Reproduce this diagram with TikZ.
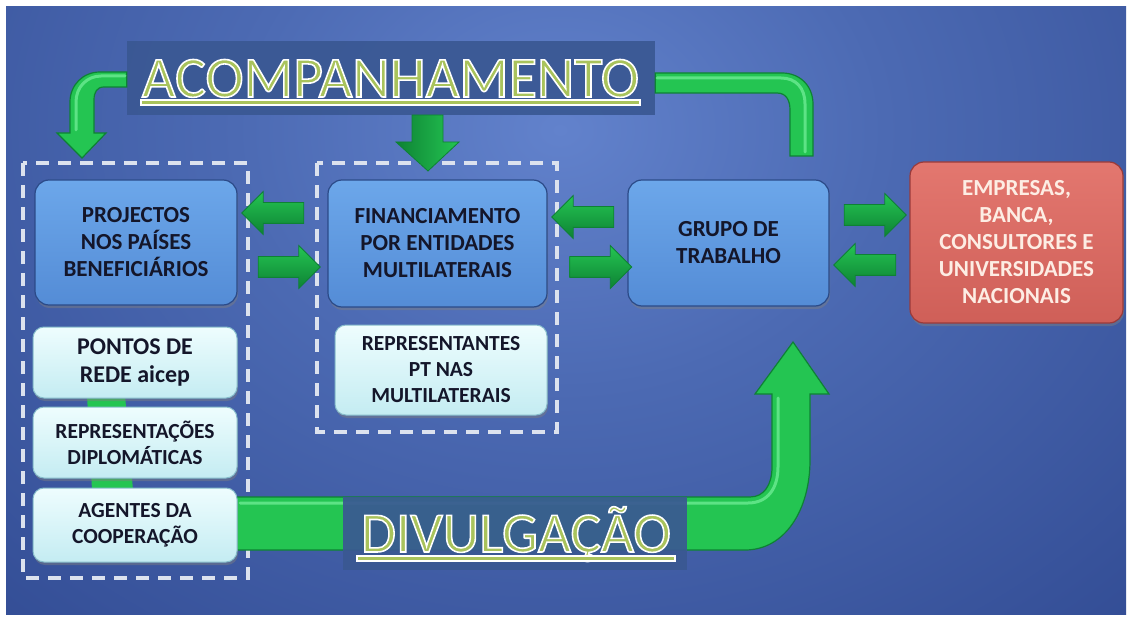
\documentclass[tikz,border=0pt]{standalone}
\usepackage{fontspec}
\setmainfont{Carlito}
\usetikzlibrary{shapes.arrows,shadows}
\definecolor{bgin}{HTML}{6282CC}
\definecolor{bgmid}{HTML}{4C6AB3}
\definecolor{bgmid2}{HTML}{324C94}
\definecolor{bgout}{HTML}{1B2966}
\definecolor{banner}{HTML}{3A5893}
\definecolor{olivet}{HTML}{A9C35C}
\definecolor{grn}{HTML}{24C552}
\definecolor{grnlt}{HTML}{6CEB92}
\definecolor{grndk}{HTML}{0E8234}
\definecolor{boxtop}{HTML}{6CA7EA}
\definecolor{boxbot}{HTML}{548CD6}
\definecolor{boxline}{HTML}{2B4A88}
\definecolor{cyantop}{HTML}{EEFDFE}
\definecolor{cyanbot}{HTML}{C4ECF2}
\definecolor{cyanline}{HTML}{86BCCB}
\definecolor{redtop}{HTML}{E3776F}
\definecolor{redbot}{HTML}{CF5F58}
\definecolor{redline}{HTML}{9A3A3A}
\definecolor{redtext}{HTML}{FDEDE4}
\definecolor{txt}{HTML}{14162A}
\definecolor{dashc}{HTML}{DCE2EE}
\pgfdeclareradialshading{bgshade}{\pgfpoint{0bp}{0bp}}{color(0bp)=(bgin); color(9bp)=(bgmid); color(24bp)=(bgmid2); color(38bp)=(bgout); color(50bp)=(bgout)}
\tikzset{
  bluebox/.style={rectangle, rounded corners=14pt, top color=boxtop, bottom color=boxbot, draw=boxline, line width=1.2pt,
     drop shadow={shadow xshift=1pt, shadow yshift=-3pt, opacity=0.45},
     text=txt, align=center, font=\fontsize{23}{27}\selectfont\bfseries, inner sep=0pt},
  cyanbox/.style={rectangle, rounded corners=11pt, top color=cyantop, bottom color=cyanbot, draw=cyanline, line width=1pt,
     drop shadow={shadow xshift=1pt, shadow yshift=-3pt, opacity=0.45},
     text=txt, align=center, inner sep=0pt},
  redbox/.style={rectangle, rounded corners=14pt, top color=redtop, bottom color=redbot, draw=redline, line width=1.2pt,
     drop shadow={shadow xshift=1pt, shadow yshift=-3pt, opacity=0.45},
     text=redtext, align=center, font=\fontsize{23}{27}\selectfont\bfseries, inner sep=0pt},
  dashframe/.style={draw=dashc, line width=3.5pt, dash pattern=on 13pt off 9pt},
  fatarrow/.style={single arrow, minimum height=62pt, single arrow head extend=11pt,
     inner xsep=0pt, inner ysep=0pt, top color=grn, middle color=grnlt, bottom color=grndk, draw=grndk, line width=0.8pt},
  pipe/.style={fill=grn, draw=grndk, line width=1.2pt},
  hilite/.style={draw=grnlt, line width=3pt, line cap=round, opacity=0.8},
  bannerbox/.style={rectangle, fill=banner, opacity=0.92, inner sep=0pt},
  titletext/.style={inner sep=0pt, anchor=base},
  uline/.style={fill=olivet, draw=white, line width=1.2pt}
}
% outlined title text: olive fill, white stroke (text render mode 2)
\newcommand{\ttl}[2]{\resizebox{#1}{!}{\fontsize{55}{60}\selectfont\textcolor{olivet}{\special{pdf:literal direct 2 Tr 1 1 1 RG 1.5 w}#2\special{pdf:literal direct 0 Tr}}}}
\newcommand{\shaft}{\rule{0pt}{20pt}}
\begin{document}
\begin{tikzpicture}[x=1pt,y=-1pt]
\useasboundingbox (0,0) rectangle (1132,620);
\fill[white] (0,0) rectangle (1132,620);
\begin{scope}
  \clip (6,7) rectangle (1126,614);
  \shade[shading=bgshade] (560,130) ellipse (900 and 720);
\end{scope}

% dashed frames
\draw[dashframe] (23,163) rectangle (248,578);
\draw[dashframe] (317,163) rectangle (557,432);

% green link between cyan boxes
\fill[grn] (87,395) -- (125,395) -- (133,490) -- (92,490) -- cycle;

% banners
\node[bannerbox, minimum width=528pt, minimum height=74pt] (acomp) at (391,78) {};
\node[bannerbox, minimum width=344pt, minimum height=73pt] (divul) at (515,533.5) {};

% big divulgacao arrow
\draw[pipe] (230,497) -- (750,497)
   .. controls (764,497) and (772,485) .. (772,467) -- (772,394) -- (755,394) -- (793,342)
   -- (829,394) -- (810,394) -- (810,460) .. controls (810,510) and (785,550) .. (745,550)
   -- (230,550) -- cycle;
\draw[hilite] (240,503) -- (748,503) .. controls (768,503) and (778,488) .. (778,467) -- (778,398);
\fill[bannerbox] (divul.north west) rectangle (divul.south east);

% acompanhamento pipes
\draw[pipe] (acomp.west |- 0,72) -- (100,72) .. controls (83,72) and (70,85) .. (70,102) -- (70,133)
   -- (57,133) -- (82,158) -- (106,133) -- (94,133) -- (94,100) .. controls (94,92) and (97,87) .. (104,87)
   -- (acomp.west |- 0,87) -- cycle;
\draw[hilite] (125,76) -- (101,76) .. controls (87,76) and (76,87) .. (76,102) -- (76,130);
\draw[pipe] (acomp.east |- 0,73) -- (782,73) .. controls (800,73) and (813,86) .. (813,104) -- (813,156)
   -- (790,156) -- (790,110) .. controls (790,100) and (786,93) .. (777,93) -- (acomp.east |- 0,93) -- cycle;
\draw[hilite] (657,78) -- (781,78) .. controls (796,78) and (805,88) .. (805,104) -- (805,152);
\shade[left color=grndk, middle color=grnlt, right color=grn, draw=grndk, line width=0.8pt]
   (412,115) -- (412,142) -- (396,142) -- (428,171) -- (459,142) -- (443,142) -- (443,115) -- cycle;

% titles
\node[titletext] (acompt) at (390.5,97) {\ttl{497pt}{ACOMPANHAMENTO}};
\fill[uline] (141,100) rectangle (640,105);
\node[titletext] (divult) at (516,552) {\ttl{310pt}{DIVULGAÇÃO}};
\fill[uline] (357,556) rectangle (675,561);

% main boxes
\node[bluebox, minimum width=202pt, minimum height=125pt] (proj) at (136,242.5) {PROJECTOS\\NOS PAÍSES\\BENEFICIÁRIOS};
\node[bluebox, minimum width=219pt, minimum height=127pt] (fin) at (437.5,243.5) {FINANCIAMENTO\\POR ENTIDADES\\MULTILATERAIS};
\node[bluebox, minimum width=201pt, minimum height=126pt] (grupo) at (728.5,243) {GRUPO DE\\TRABALHO};
\node[redbox, minimum width=213pt, minimum height=161pt] (emp) at (1016.5,242.5) {EMPRESAS,\\BANCA,\\CONSULTORES E\\UNIVERSIDADES\\NACIONAIS};

\node[cyanbox, minimum width=204pt, minimum height=71pt, font=\fontsize{24}{28}\selectfont\bfseries] (pontos) at (135,362.5) {PONTOS DE\\REDE aicep};
\node[cyanbox, minimum width=204pt, minimum height=71pt, font=\fontsize{21.5}{26}\selectfont\bfseries] (repdip) at (135,442.5) {REPRESENTAÇÕES\\DIPLOMÁTICAS};
\node[cyanbox, minimum width=204pt, minimum height=74pt, font=\fontsize{21.5}{26}\selectfont\bfseries] (agentes) at (135,525) {AGENTES DA\\COOPERAÇÃO};
\node[cyanbox, minimum width=212pt, minimum height=90pt, font=\fontsize{21.5}{26}\selectfont\bfseries] (reppt) at (441,370) {REPRESENTANTES\\PT NAS\\MULTILATERAIS};

% small arrows
\node[fatarrow, shape border rotate=180] (a1) at (278,213) {\shaft};
\node[fatarrow] (a2) at (284,267) {\shaft};
\node[fatarrow, shape border rotate=180] (a3) at (588,217) {\shaft};
\node[fatarrow] (a4) at (595.5,267) {\shaft};
\node[fatarrow] (a5) at (870,215) {\shaft};
\node[fatarrow, shape border rotate=180] (a6) at (870,265) {\shaft};
\end{tikzpicture}
\end{document}
